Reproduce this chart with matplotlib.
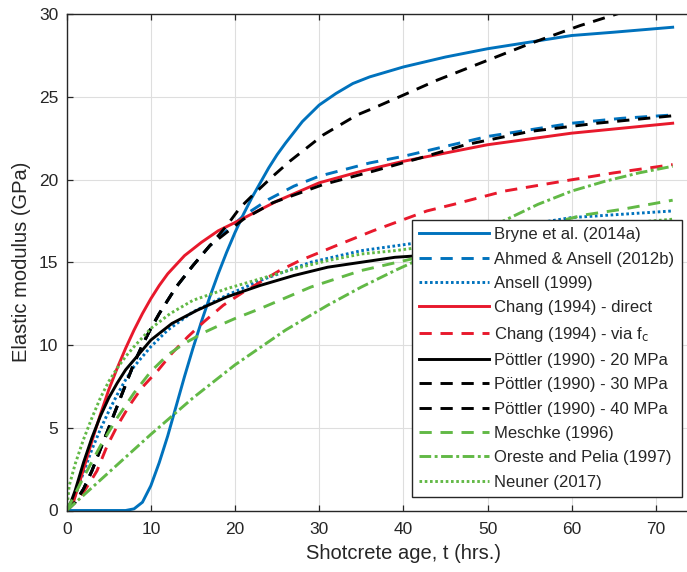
import matplotlib
matplotlib.use("Agg")
import matplotlib.pyplot as plt

plt.rcParams['font.family'] = ['Liberation Sans', 'DejaVu Sans']
plt.rcParams['mathtext.default'] = 'regular'

# ---- data: shotcrete age (hrs) and elastic modulus (GPa) ----
bryne_t = [0, 7, 8, 9, 10, 11, 12, 13, 14, 15, 16, 17, 18, 19, 20, 21, 22, 23, 24, 25, 26,
           28, 30, 32, 34, 36, 38, 40, 45, 50, 55, 60, 65, 72]
bryne_E = [0, 0, 0.1, 0.5, 1.5, 2.9, 4.5, 6.3, 8.1, 9.8, 11.4, 12.9, 14.3, 15.6, 16.8,
           17.9, 18.9, 19.8, 20.7, 21.5, 22.2, 23.5, 24.5, 25.2, 25.8, 26.2, 26.5, 26.8,
           27.4, 27.9, 28.3, 28.7, 28.9, 29.2]

ahmed_t = [0, 1, 2, 3, 4, 5, 6, 7, 8, 9, 10, 11, 12, 13, 15, 17, 19, 21, 24, 27, 30,
           33, 36, 40, 45, 50, 55, 60, 66, 72]
ahmed_E = [0, 0.5, 1.3, 2.4, 3.7, 5.0, 6.3, 7.6, 8.9, 10.0, 11.0, 11.9, 12.7, 13.5, 14.8,
           16.0, 16.9, 17.8, 18.8, 19.6, 20.2, 20.6, 21.0, 21.4, 22.0, 22.6, 23.0, 23.4,
           23.7, 23.9]

ansell_t = [0, 1, 2, 3, 4, 5, 6, 7, 8, 10, 12, 15, 19, 23, 29, 35, 42, 50, 57.5, 60, 66, 72]
ansell_E = [0, 0.9, 2.3, 3.7, 4.9, 6.0, 7.0, 7.9, 8.7, 9.9, 10.9, 12.0, 13.0, 13.9, 15.0,
            15.7, 16.2, 16.9, 17.5, 17.7, 17.9, 18.1]

chang_direct_t = [0, 0.8, 2, 3, 4, 5, 6, 7, 8, 9, 10, 11, 12, 14, 16, 18, 20, 25, 30, 35,
                  40, 50, 60, 72]
chang_direct_E = [0, 0.5, 2.5, 4.2, 5.8, 7.3, 8.6, 9.8, 10.9, 11.9, 12.8, 13.6, 14.3, 15.4,
                  16.2, 16.9, 17.4, 18.7, 19.8, 20.5, 21.1, 22.1, 22.8, 23.4]

chang_fc_t = [0, 1, 2, 3, 3.6, 4.8, 6, 7.4, 8.9, 10.9, 12.5, 14.4, 16.3, 18.6, 21, 23, 25.3,
              27.7, 32, 36.4, 42.8, 46, 52, 59, 65, 72]
chang_fc_E = [0, 0.5, 1.1, 1.9, 2.4, 3.9, 5.1, 6.3, 7.4, 8.5, 9.5, 10.5, 11.4, 12.4, 13.2,
              13.8, 14.5, 15.1, 16.0, 16.9, 18.1, 18.5, 19.3, 19.9, 20.4, 20.9]

pottler20_t = [0, 0.5, 1, 2, 3, 4, 5, 6, 7, 8, 10, 12.5, 15.5, 19, 23, 27, 31, 35, 39, 42,
               50, 60, 72]
pottler20_E = [0, 0.5, 1.2, 2.9, 4.4, 5.7, 6.8, 7.7, 8.5, 9.1, 10.3, 11.3, 12.1, 12.9,
               13.6, 14.2, 14.7, 15.0, 15.3, 15.4, 15.7, 15.9, 16.0]

pottler30_t = [0, 1, 2, 3, 4, 5, 6, 7, 8, 9, 10, 11, 12, 13, 15, 17, 19, 21, 24.5, 30.5,
               36.4, 42, 47.4, 55, 63, 72]
pottler30_E = [0, 0.5, 1.3, 2.4, 3.7, 5.0, 6.3, 7.6, 8.9, 10.0, 11.0, 11.9, 12.7, 13.5,
               14.8, 16.0, 16.8, 17.6, 18.6, 19.7, 20.5, 21.3, 22.1, 22.9, 23.4, 23.85]

pottler40_t = [0, 1, 2, 3, 4, 5, 6, 7, 8, 9, 10, 11, 12, 13, 15, 17, 19, 20.6, 22.2, 24.5,
               26.5, 28.5, 30.5, 32.5, 34.5, 36.4, 40, 44, 50, 55, 61, 66, 72]
pottler40_E = [0, 0.5, 1.3, 2.4, 3.7, 5.0, 6.3, 7.6, 8.9, 10.0, 11.0, 11.9, 12.7, 13.5,
               14.8, 16.0, 17.2, 18.3, 19.1, 20.2, 21.1, 21.9, 22.7, 23.3, 23.9, 24.3,
               25.1, 26.0, 27.2, 28.2, 29.3, 30.1, 30.9]

meschke_t = [0, 1, 2, 4, 6, 8, 10, 12, 14, 16.5, 18.2, 20, 23, 29, 35, 41, 50, 61.4, 66, 72]
meschke_E = [0, 1.0, 2.0, 3.9, 5.6, 7.1, 8.4, 9.4, 10.1, 10.8, 11.2, 11.6, 12.2, 13.5,
             14.5, 15.2, 16.4, 17.85, 18.2, 18.75]

oreste_t = [0, 5, 10, 15, 20, 26, 31, 35, 39, 42, 47, 51.5, 56, 60, 64, 68, 72]
oreste_E = [0, 2.3, 4.6, 6.8, 8.8, 10.9, 12.4, 13.5, 14.5, 15.2, 16.3, 17.4, 18.5, 19.3,
            19.9, 20.4, 20.8]

neuner_t = [0, 0.3, 1, 2, 3, 4, 5, 6, 7, 8, 10, 12.3, 15, 19, 23, 27, 31, 35, 39, 42, 50,
            60, 72]
neuner_E = [0, 1.5, 2.8, 4.3, 5.6, 6.8, 7.8, 8.6, 9.3, 9.9, 11.0, 11.9, 12.7, 13.4, 14.0,
            14.6, 15.1, 15.5, 15.7, 15.9, 16.5, 17.1, 17.6]

labels = ['Bryne et al. (2014a)', 'Ahmed & Ansell (2012b)', 'Ansell (1999)',
          'Chang (1994) - direct', 'Chang (1994) - via f$_\\mathrm{c}$',
          'Pöttler (1990) - 20 MPa', 'Pöttler (1990) - 30 MPa', 'Pöttler (1990) - 40 MPa',
          'Meschke (1996)', 'Oreste and Pelia (1997)', 'Neuner (2017)']

x_ticks = [0, 10, 20, 30, 40, 50, 60, 70]
y_ticks = [0, 5, 10, 15, 20, 25, 30]

BLUE = '#0072BD'
RED = '#E8192C'
GREEN = '#62B946'
BLACK = '#000000'

DASH = (0, (4.2, 3.0))
DOT = (0, (0.9, 0.9))
DASHDOT = (0, (4.0, 1.2, 1.0, 1.2))

series = [
    (bryne_t, bryne_E, BLUE, '-'),
    (ahmed_t, ahmed_E, BLUE, DASH),
    (ansell_t, ansell_E, BLUE, DOT),
    (chang_direct_t, chang_direct_E, RED, '-'),
    (chang_fc_t, chang_fc_E, RED, DASH),
    (pottler20_t, pottler20_E, BLACK, '-'),
    (pottler30_t, pottler30_E, BLACK, DASH),
    (pottler40_t, pottler40_E, BLACK, DASH),
    (meschke_t, meschke_E, GREEN, DASH),
    (oreste_t, oreste_E, GREEN, DASHDOT),
    (neuner_t, neuner_E, GREEN, DOT),
]

fig = plt.figure(figsize=(6.87, 5.72), dpi=100)
# axes extend past the right edge of the canvas
ax = fig.add_axes([66.7 / 687, (572 - 510.5) / 572, (740 - 66.7) / 687, 496.5 / 572])

for (t, E, c, ls), lab in zip(series, labels):
    ax.plot(t, E, color=c, linestyle=ls, linewidth=2.1, label=lab)

ax.set_xlim(0, 80)
ax.set_ylim(0, 30)
ax.set_xticks(x_ticks)
ax.set_yticks(y_ticks)
ax.grid(True, color='#dedede', linewidth=0.8)
ax.set_axisbelow(True)

axis_col = '#262626'
for s in ax.spines.values():
    s.set_color(axis_col)
    s.set_linewidth(1.0)
ax.tick_params(direction='in', length=4, width=0.9, top=True, right=True,
               colors=axis_col, labelsize=12.5, pad=6)
ax.tick_params(axis='x', pad=8)

ax.set_xlabel('Shotcrete age, t (hrs.)', fontsize=14.5, color=axis_col, labelpad=5)
ax.set_ylabel('Elastic modulus (GPa)', fontsize=14.5, color=axis_col, labelpad=6)

leg = ax.legend(loc='lower right', bbox_to_anchor=(0.914, 0.027), borderaxespad=0,
                fancybox=False, framealpha=1, edgecolor='#262626', fontsize=12,
                handlelength=4.2, handletextpad=0.3, labelspacing=0.56,
                borderpad=0.45)
leg.get_frame().set_linewidth(1.0)
for txt in leg.get_texts():
    txt.set_color(axis_col)

fig.savefig('out.png', dpi=100)
